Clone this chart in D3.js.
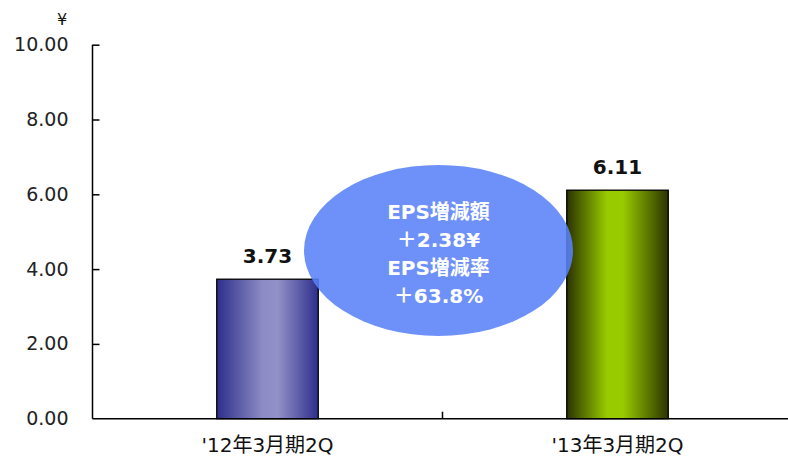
<!DOCTYPE html>
<html>
<head>
<meta charset="utf-8">
<script src="https://cdn.jsdelivr.net/npm/d3@7"></script>
<style>
  html, body { margin: 0; padding: 0; background: #fff; }
  svg { display: block; font-family: "DejaVu Sans", "Noto Sans CJK JP", sans-serif; }
</style>
</head>
<body>
<svg id="chart" width="788" height="464"></svg>
<script>
// EPS per period (yen)
const categories = ["'12年3月期2Q", "'13年3月期2Q"];
const epsValues = [3.73, 6.11];
const tickValues = [0, 2, 4, 6, 8, 10];
const calloutLines = ["EPS増減額", "＋2.38¥", "EPS増減率", "＋63.8%"];

const svg = d3.select("#chart");
const margin = { left: 92.5, right: -4.5, top: 44.7, bottom: 45.3 };
const width = 788, height = 464;

const x = d3.scaleBand()
  .domain(categories)
  .range([margin.left, width - margin.right])
  .paddingInner(0)
  .paddingOuter(0);

const y = d3.scaleLinear()
  .domain([0, 10])
  .range([height - margin.bottom, margin.top]);

// Gradients for bars
const defs = svg.append("defs");
const gradSpecs = [
  { id: "g0", stops: [["0%", "#2d2f8c"], ["45%", "#8c8bc4"], ["60%", "#9390c8"], ["100%", "#2d2f8c"]] },
  { id: "g1", stops: [["0%", "#2b3300"], ["40%", "#99cc00"], ["55%", "#99cc00"], ["100%", "#2b3300"]] }
];
gradSpecs.forEach(g => {
  const lg = defs.append("linearGradient").attr("id", g.id)
    .attr("x1", "0%").attr("x2", "100%").attr("y1", "0%").attr("y2", "0%");
  g.stops.forEach(s => lg.append("stop").attr("offset", s[0]).attr("stop-color", s[1]));
});

// Bars
const barW = x.bandwidth() * 0.29;
svg.append("g").selectAll("rect")
  .data(epsValues)
  .join("rect")
  .attr("x", (d, i) => x(categories[i]) + (x.bandwidth() - barW) / 2)
  .attr("y", d => y(d))
  .attr("width", barW)
  .attr("height", d => y(0) - y(d))
  .attr("fill", (d, i) => `url(#g${i})`)
  .attr("stroke", "#000")
  .attr("stroke-width", 1.3);

// Value labels
svg.append("g").selectAll("text")
  .data(epsValues)
  .join("text")
  .attr("x", (d, i) => x(categories[i]) + x.bandwidth() / 2)
  .attr("y", d => y(d) - 16)
  .attr("text-anchor", "middle")
  .attr("font-size", 20)
  .attr("font-weight", "bold")
  .attr("fill", "#111")
  .text(d => d.toFixed(2));

// Y axis
const yAxis = d3.axisLeft(y)
  .tickValues(tickValues)
  .tickSize(-7)
  .tickPadding(24)
  .tickFormat(d3.format(".2f"));
const yg = svg.append("g")
  .attr("transform", `translate(${margin.left},0)`)
  .call(yAxis);
yg.select(".domain").attr("stroke", "#000").attr("stroke-width", 1.5)
  .attr("d", `M0,${y(10)}V${y(0)}`);
yg.selectAll(".tick line").attr("stroke", "#000").attr("stroke-width", 1.5);
yg.selectAll(".tick text")
  .attr("font-size", 19)
  .attr("fill", "#222")
  .attr("font-family", "'DejaVu Sans', sans-serif");
yg.selectAll(".tick").filter(d => d === 0).select("line").remove();

// X axis
const xAxis = d3.axisBottom(x).tickSize(0).tickPadding(19);
const xg = svg.append("g")
  .attr("transform", `translate(0,${y(0)})`)
  .call(xAxis);
xg.select(".domain").attr("stroke", "#000").attr("stroke-width", 1.5)
  .attr("d", `M${margin.left},0H${width - margin.right}`);
xg.selectAll(".tick text")
  .attr("font-size", 20)
  .attr("fill", "#111")
  .attr("font-family", "'DejaVu Sans', 'Noto Sans CJK JP', sans-serif");
// separators between categories
xg.append("g").selectAll("line")
  .data(categories.slice(1))
  .join("line")
  .attr("x1", d => x(d)).attr("x2", d => x(d))
  .attr("y1", 0).attr("y2", -7)
  .attr("stroke", "#000").attr("stroke-width", 1.5);

// Currency unit
svg.append("text")
  .attr("x", 62).attr("y", 25)
  .attr("text-anchor", "middle")
  .attr("font-size", 16)
  .attr("fill", "#111")
  .text("¥");

// Callout ellipse with change figures
const cx = (x(categories[0]) + x(categories[1]) + x.bandwidth()) / 2 - 4;
const cy = y(4.5);
svg.append("ellipse")
  .attr("cx", cx).attr("cy", cy)
  .attr("rx", 134.5).attr("ry", 85.5)
  .attr("fill", "#5a82f8")
  .attr("fill-opacity", 0.88);

svg.append("g").selectAll("text")
  .data(calloutLines)
  .join("text")
  .attr("x", cx)
  .attr("y", (d, i) => cy - 31.5 + i * 28)
  .attr("text-anchor", "middle")
  .attr("font-size", 20)
  .attr("font-weight", "bold")
  .attr("fill", "#fff")
  .text(d => d);
</script>
</body>
</html>
